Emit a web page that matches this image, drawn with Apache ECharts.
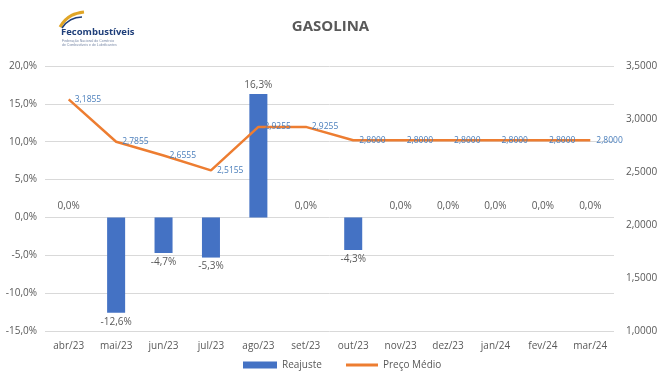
<!DOCTYPE html>
<html><head><meta charset="utf-8">
<script src="https://cdn.jsdelivr.net/npm/echarts@6/dist/echarts.min.js"></script>
<style>html,body{margin:0;padding:0;background:#fff}#c{width:661px;height:386px}</style>
</head><body><div id="c"></div>
<script>
const categories = ['abr/23','mai/23','jun/23','jul/23','ago/23','set/23','out/23','nov/23','dez/23','jan/24','fev/24','mar/24'];
const reajuste = [0, -12.6, -4.7, -5.3, 16.3, 0, -4.3, 0, 0, 0, 0, 0];
const precoMedio = [3.1855, 2.7855, 2.6555, 2.5155, 2.9255, 2.9255, 2.8, 2.8, 2.8, 2.8, 2.8, 2.8];
const leftTicks = [-15, 20, 5];
const rightTicks = [1, 3.5, 0.5];

const fmtPct = v => v.toFixed(1).replace('.', ',') + '%';
const fmtNum = v => v.toFixed(4).replace('.', ',');
const txt = '#595959';

const chart = echarts.init(document.getElementById('c'));
chart.setOption({
  animation: false,
  textStyle: {fontFamily: 'Open Sans, Noto Sans, sans-serif'},
  title: {text: 'GASOLINA', left: 'center', top: 14,
    textStyle: {fontSize: 15, fontWeight: 'bold', color: txt, fontFamily: 'Open Sans, sans-serif'}},
  graphic: [
    {type: 'bezierCurve', shape: {x1: 60, y1: 27, x2: 84, y2: 12, cpx1: 67, cpy1: 15, cpx2: 76, cpy2: 13},
     style: {stroke: '#e0a526', lineWidth: 3, fill: null}},
    {type: 'bezierCurve', shape: {x1: 62, y1: 28, x2: 82, y2: 17, cpx1: 68, cpy1: 19, cpx2: 75, cpy2: 17},
     style: {stroke: '#1f3f7a', lineWidth: 1.5, fill: null}},
    {type: 'text', left: 61, top: 27, style: {text: 'Fecombustíveis', fill: '#1f3f7a', font: 'bold 9.5px Open Sans, sans-serif'}},
    {type: 'text', left: 62, top: 39, style: {text: 'Federação Nacional do Comércio', fill: '#7a8aa8', font: '3.5px sans-serif'}},
    {type: 'text', left: 62, top: 43, style: {text: 'de Combustíveis e de Lubrificantes', fill: '#7a8aa8', font: '3.5px sans-serif'}}
  ],
  legend: [
    {left: 238, bottom: 11, itemWidth: 34, itemHeight: 7, itemGap: 4,
     textStyle: {color: txt, fontSize: 10},
     data: [{name: 'Reajuste', icon: 'rect'}]},
    {left: 341, bottom: 11, itemWidth: 32, itemHeight: 3,
     textStyle: {color: txt, fontSize: 10},
     data: [{name: 'Preço Médio', icon: 'rect', itemStyle: {color: '#ed7d31', opacity: 1}}]}
  ],
  grid: {left: 45, right: 47, top: 66, bottom: 55},
  xAxis: {
    type: 'category', data: categories,
    axisLine: {show: false}, axisTick: {show: false},
    axisLabel: {color: txt, fontSize: 10, margin: 10}
  },
  yAxis: [
    {type: 'value', min: leftTicks[0], max: leftTicks[1], interval: leftTicks[2],
     axisLabel: {color: txt, fontSize: 10, formatter: fmtPct, margin: 8},
     splitLine: {lineStyle: {color: '#d9d9d9'}}, axisLine: {show: false}, axisTick: {show: false}},
    {type: 'value', min: rightTicks[0], max: rightTicks[1], interval: rightTicks[2],
     axisLabel: {color: txt, fontSize: 10, formatter: fmtNum, margin: 12},
     splitLine: {show: false}, axisLine: {show: false}, axisTick: {show: false}}
  ],
  series: [
    {name: 'Reajuste', type: 'bar', yAxisIndex: 0, barWidth: '38%',
     itemStyle: {color: '#4472c4'},
     data: reajuste.map(v => ({value: v, label: {position: v < 0 ? 'bottom' : 'top', distance: v === 0 ? 6 : 4}})),
     label: {show: true, color: txt, fontSize: 10, formatter: p => fmtPct(p.value)}},
    {name: 'Preço Médio', type: 'line', yAxisIndex: 1, data: precoMedio,
     symbol: 'circle', symbolSize: 2, showSymbol: true,
     lineStyle: {color: '#ed7d31', width: 2.5}, itemStyle: {color: 'rgba(0,0,0,0)'},
     label: {show: true, position: 'right', distance: 5, color: '#4a7ebb', fontSize: 8.5,
       formatter: p => fmtNum(p.value)}}
  ]
});
</script></body></html>
